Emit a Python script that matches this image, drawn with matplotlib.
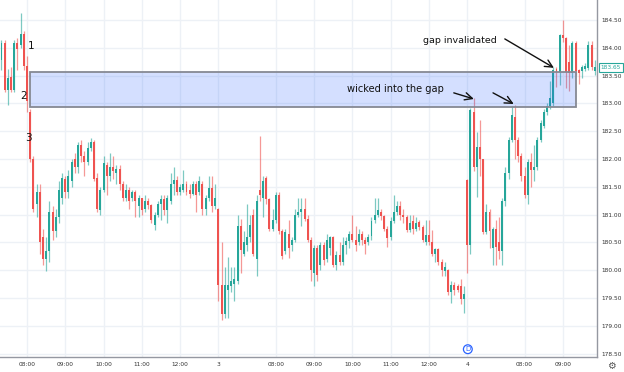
import matplotlib
matplotlib.use('Agg')
import matplotlib.pyplot as plt
from matplotlib.patches import Rectangle
from matplotlib.transforms import blended_transform_factory
import numpy as np

# ---- 5-minute OHLC bars (three sessions) ----
opens = [
    183.78, 184.09, 183.24, 183.48, 183.24, 184.09, 184.05, 184.25, 183.67, 182.85,
    182.00, 181.20, 181.40, 180.60, 180.20, 180.35, 181.05, 180.70, 180.95, 181.30,
    181.65, 181.40, 181.60, 182.00, 181.85, 182.25, 182.05, 181.95, 182.20, 182.30,
    181.65, 181.08, 181.45, 181.90, 181.70, 181.85, 181.75, 181.82, 181.55, 181.30,
    181.45, 181.30, 181.40, 181.15, 181.30, 181.10, 181.25, 181.17, 180.82, 181.00,
    181.20, 181.28, 181.08, 181.25, 181.55, 181.62, 181.40, 181.45, 181.55, 181.45,
    181.38, 181.55, 181.40, 181.55, 181.10, 181.30, 181.48, 181.15,
    181.10, 179.73, 179.22, 179.65, 179.72, 179.76, 179.80, 180.80, 180.30, 180.45,
    180.60, 181.00, 180.20, 181.45, 181.30, 181.65, 181.28, 180.75, 180.90, 181.35,
    180.70, 180.35, 180.65, 180.45, 180.55, 181.00, 181.05, 181.10, 180.93, 180.55,
    179.95, 180.40, 180.10, 180.45, 180.20, 180.40, 180.60, 180.10, 180.28, 180.15,
    180.45, 180.52, 180.65, 180.55, 180.50, 180.65, 180.55, 180.50, 180.62, 180.90,
    181.00, 181.05, 180.97, 180.75, 180.60, 180.88, 181.05, 181.15, 181.00, 180.95,
    180.72, 180.88, 180.75, 180.87, 180.78, 180.50, 180.63, 180.50, 180.30, 180.38,
    180.15, 179.98, 180.00, 179.60, 179.73, 179.72, 179.72, 179.48,
    181.62, 180.45, 182.85, 181.85, 182.22, 182.00, 180.68, 181.05, 180.40, 180.75,
    180.50, 180.35, 181.25, 181.75, 182.35, 182.75, 182.35, 182.05, 181.70, 181.35,
    181.95, 181.80, 181.85, 182.35, 182.60, 182.85, 182.95, 183.00, 183.62, 183.56,
    184.23, 184.18, 183.75, 183.55, 184.08, 183.60, 183.58, 183.62, 183.63, 184.05,
    183.58,
]
highs = [
    184.14, 184.14, 183.62, 183.65, 184.14, 184.18, 184.62, 184.30, 183.85, 182.90,
    182.05, 181.55, 181.55, 180.75, 180.60, 181.25, 181.15, 181.10, 181.60, 181.75,
    181.70, 181.80, 182.00, 182.10, 182.30, 182.35, 182.15, 182.30, 182.38, 182.35,
    181.75, 181.50, 182.05, 181.95, 182.10, 182.05, 181.90, 181.90, 181.60, 181.55,
    181.50, 181.45, 181.45, 181.35, 181.30, 181.35, 181.30, 181.20, 181.05, 181.25,
    181.35, 181.35, 181.35, 181.75, 181.85, 181.70, 181.55, 181.80, 181.60, 181.55,
    181.60, 181.60, 181.70, 181.60, 181.35, 181.70, 181.70, 181.55,
    181.12, 180.50, 180.05, 180.23, 180.05, 180.05, 181.00, 180.93, 180.70, 181.20,
    181.00, 181.10, 181.35, 182.42, 181.70, 181.70, 181.30, 181.10, 181.40, 181.40,
    180.75, 180.75, 180.90, 180.60, 181.10, 181.30, 181.30, 181.30, 181.00, 180.60,
    180.45, 180.45, 180.50, 180.50, 180.65, 180.62, 180.62, 180.35, 180.50, 180.60,
    180.60, 180.70, 181.00, 180.80, 180.75, 180.70, 180.60, 180.65, 180.95, 181.30,
    181.30, 181.10, 181.00, 180.80, 180.95, 181.35, 181.25, 181.25, 181.10, 181.00,
    181.00, 181.00, 180.95, 180.90, 180.82, 180.90, 180.90, 180.72, 180.40, 180.40,
    180.20, 180.15, 180.02, 179.80, 179.78, 179.75, 179.85, 179.72,
    181.65, 182.92, 183.10, 182.48, 182.70, 182.00, 181.20, 181.10, 180.78, 180.90,
    180.95, 181.30, 181.85, 182.40, 182.95, 182.98, 182.40, 182.10, 181.85, 182.00,
    182.10, 182.25, 182.40, 182.70, 182.90, 183.00, 183.40, 183.65, 183.65, 184.25,
    184.50, 184.20, 184.05, 184.12, 184.12, 183.62, 183.70, 183.72, 184.12, 184.12,
    183.78,
]
lows = [
    183.60, 183.20, 182.98, 183.20, 183.20, 183.60, 184.00, 183.60, 182.85, 181.95,
    181.05, 180.95, 180.30, 180.10, 179.98, 180.15, 180.55, 180.60, 180.85, 181.20,
    181.30, 181.30, 181.50, 181.75, 181.75, 181.95, 181.70, 181.90, 182.15, 181.60,
    181.05, 181.00, 181.40, 181.35, 181.60, 181.65, 181.55, 181.45, 181.25, 181.25,
    181.10, 181.25, 180.95, 180.95, 181.00, 181.05, 181.10, 180.85, 180.72, 180.95,
    180.90, 181.00, 180.85, 181.20, 181.35, 181.35, 181.35, 181.40, 181.35, 181.30,
    181.35, 181.05, 181.35, 181.00, 181.00, 181.25, 181.05, 181.10,
    179.45, 179.10, 179.15, 179.15, 179.60, 179.45, 179.75, 179.95, 180.25, 180.35,
    180.50, 180.25, 179.90, 181.25, 180.95, 181.20, 180.70, 180.70, 180.85, 180.65,
    180.20, 180.30, 180.22, 180.35, 180.50, 180.95, 180.80, 180.88, 180.50, 179.80,
    179.72, 179.80, 180.00, 180.10, 180.15, 180.28, 180.05, 180.00, 180.10, 180.10,
    180.30, 180.40, 180.50, 180.35, 180.45, 180.45, 180.30, 180.45, 180.55, 180.85,
    180.95, 180.90, 180.70, 180.42, 180.55, 180.85, 181.00, 180.90, 180.85, 180.68,
    180.68, 180.65, 180.70, 180.72, 180.50, 180.45, 180.45, 180.25, 180.15, 180.10,
    179.90, 179.90, 179.55, 179.42, 179.55, 179.60, 179.40, 179.23,
    179.95, 180.30, 181.78, 181.32, 181.70, 180.65, 180.65, 180.40, 180.09, 180.10,
    180.20, 180.10, 181.15, 181.65, 182.30, 182.00, 181.95, 181.60, 181.30, 181.20,
    181.50, 181.60, 181.80, 182.30, 182.55, 182.80, 182.90, 182.95, 183.30, 183.33,
    184.10, 183.28, 183.22, 183.45, 183.52, 183.35, 183.45, 183.58, 183.60, 183.60,
    183.52,
]
closes = [
    184.09, 183.24, 183.45, 183.24, 184.09, 183.98, 184.25, 183.67, 183.05, 182.00,
    181.10, 181.40, 180.50, 180.20, 180.35, 181.05, 180.70, 180.95, 181.45, 181.65,
    181.40, 181.70, 181.95, 181.85, 182.25, 182.05, 181.95, 182.20, 182.30, 181.65,
    181.10, 181.45, 181.93, 181.70, 181.85, 181.78, 181.82, 181.55, 181.30, 181.45,
    181.25, 181.40, 181.25, 181.30, 181.08, 181.25, 181.17, 180.90, 181.00, 181.20,
    181.28, 181.08, 181.30, 181.55, 181.62, 181.40, 181.50, 181.55, 181.40, 181.38,
    181.55, 181.35, 181.60, 181.10, 181.30, 181.48, 181.15, 181.30,
    179.73, 179.22, 179.73, 179.73, 179.80, 179.84, 180.80, 180.37, 180.50, 180.60,
    180.82, 180.30, 181.25, 181.35, 181.60, 181.28, 180.75, 180.90, 181.35, 180.70,
    180.25, 180.68, 180.40, 180.55, 181.00, 181.05, 181.10, 180.93, 180.55, 180.00,
    180.40, 179.92, 180.45, 180.18, 180.55, 180.60, 180.10, 180.28, 180.15, 180.45,
    180.52, 180.65, 180.55, 180.45, 180.65, 180.55, 180.48, 180.60, 180.88, 181.00,
    181.08, 180.97, 180.75, 180.58, 180.88, 181.05, 181.15, 181.00, 180.95, 180.72,
    180.85, 180.75, 180.85, 180.78, 180.55, 180.63, 180.50, 180.30, 180.38, 180.15,
    180.00, 180.05, 179.60, 179.73, 179.65, 179.65, 179.48, 179.57,
    180.45, 182.88, 181.85, 182.22, 182.00, 180.68, 181.05, 180.70, 180.75, 180.42,
    180.35, 181.25, 181.75, 182.35, 182.80, 182.35, 182.05, 181.70, 181.35, 181.95,
    181.80, 181.85, 182.35, 182.65, 182.85, 182.95, 183.10, 183.60, 183.56, 184.23,
    184.18, 183.57, 183.55, 184.08, 183.58, 183.55, 183.65, 183.68, 184.05, 183.65,
    183.65,
]

tick_idx = [8, 20, 32, 44, 56, 68, 86, 98, 110, 122, 134, 146, 164, 176]
tick_lbl = ['08:00', '09:00', '10:00', '11:00', '12:00', '3',
            '08:00', '09:00', '10:00', '11:00', '12:00', '4', '08:00', '09:00']
price_ticks = [178.5, 179.0, 179.5, 180.0, 180.5, 181.0, 181.5,
               182.0, 182.5, 183.0, 183.5, 184.0, 184.5]

gap_low, gap_high = 182.94, 183.56
gap_start, gap_end = 8.95, 180.1
last_price = 183.65

UP = '#26a69a'
DN = '#ef5350'

fig = plt.figure(figsize=(6.24, 3.72), dpi=100)
fig.patch.set_facecolor('white')
ax = fig.add_axes([0, 15 / 372, 597 / 624, 357 / 372])

o = np.array(opens); h = np.array(highs); l = np.array(lows); c = np.array(closes)
x = np.arange(len(o))
up = c >= o
cols = np.where(up, UP, DN)

ax.vlines(x, l, h, colors=cols, lw=0.9, alpha=0.6, zorder=2)
body_h = np.maximum(np.abs(c - o), 0.02)
ax.bar(x, body_h, bottom=np.minimum(o, c), width=0.62, color=cols, linewidth=0, zorder=3)

ax.add_patch(Rectangle((gap_start, gap_low), gap_end - gap_start, gap_high - gap_low,
                       facecolor=(0.16, 0.38, 1.0, 0.2), edgecolor='#868993',
                       lw=1.3, zorder=4))

ax.set_xlim(-0.47, 186.7)
ax.set_ylim(178.44, 184.86)
ax.set_xticks(tick_idx)
ax.set_xticklabels(tick_lbl)
ax.set_yticks(price_ticks)
ax.set_yticklabels([f'{p:.2f}' for p in price_ticks])
ax.yaxis.tick_right()
ax.grid(True, color='#edf1f6', lw=1, zorder=0)
ax.set_axisbelow(True)
ax.tick_params(axis='y', length=0, pad=3, labelsize=4.2, labelcolor='#333333')
ax.tick_params(axis='x', length=0, pad=3.5, labelsize=4.2, labelcolor='#333333')
for s in ('top', 'left'):
    ax.spines[s].set_visible(False)
for s in ('right', 'bottom'):
    ax.spines[s].set_color('#9598a1')
    ax.spines[s].set_linewidth(1)

trans = blended_transform_factory(ax.transAxes, ax.transData)
ax.text(1.006, last_price, f'{last_price:.2f}', transform=trans, fontsize=4.2,
        color=UP, va='center', ha='left', clip_on=False, zorder=10,
        bbox=dict(boxstyle='square,pad=0.3', fc='white', ec=UP, lw=0.8))

for lbl, xi, yp in [('1', 9.25, 184.03), ('2', 7.05, 183.13), ('3', 8.3, 182.38)]:
    ax.text(xi, yp, lbl, fontsize=7.5, color='#111111', ha='center', va='center', zorder=6)

ax.text(123.4, 183.26, 'wicked into the gap', fontsize=7.1, color='#111111',
        ha='center', va='center', zorder=6)
ax.text(143.7, 184.14, 'gap invalidated', fontsize=6.8, color='#111111',
        ha='center', va='center', zorder=6)

aprops = dict(arrowstyle='->,head_length=0.45,head_width=0.22', lw=1.0,
              color='#111111', shrinkA=0, shrinkB=0, mutation_scale=12)
ax.annotate('', xy=(173.2, 183.64), xytext=(157.8, 184.16), arrowprops=aprops, zorder=6)
ax.annotate('', xy=(148.1, 183.08), xytext=(141.8, 183.19), arrowprops=aprops, zorder=6)
ax.annotate('', xy=(160.6, 182.99), xytext=(154.1, 183.19), arrowprops=aprops, zorder=6)

ax.text(146.2, 178.58, 'D', fontsize=5, color='#2962ff', ha='center', va='center',
        zorder=7, bbox=dict(boxstyle='circle,pad=0.2', fc='white', ec='#2962ff', lw=0.9))

fig.text(611 / 624, 1 - 366 / 372, '\u2699', fontsize=7, color='#555555',
         ha='center', va='center')

fig.savefig('out.png', dpi=100, facecolor='white')
